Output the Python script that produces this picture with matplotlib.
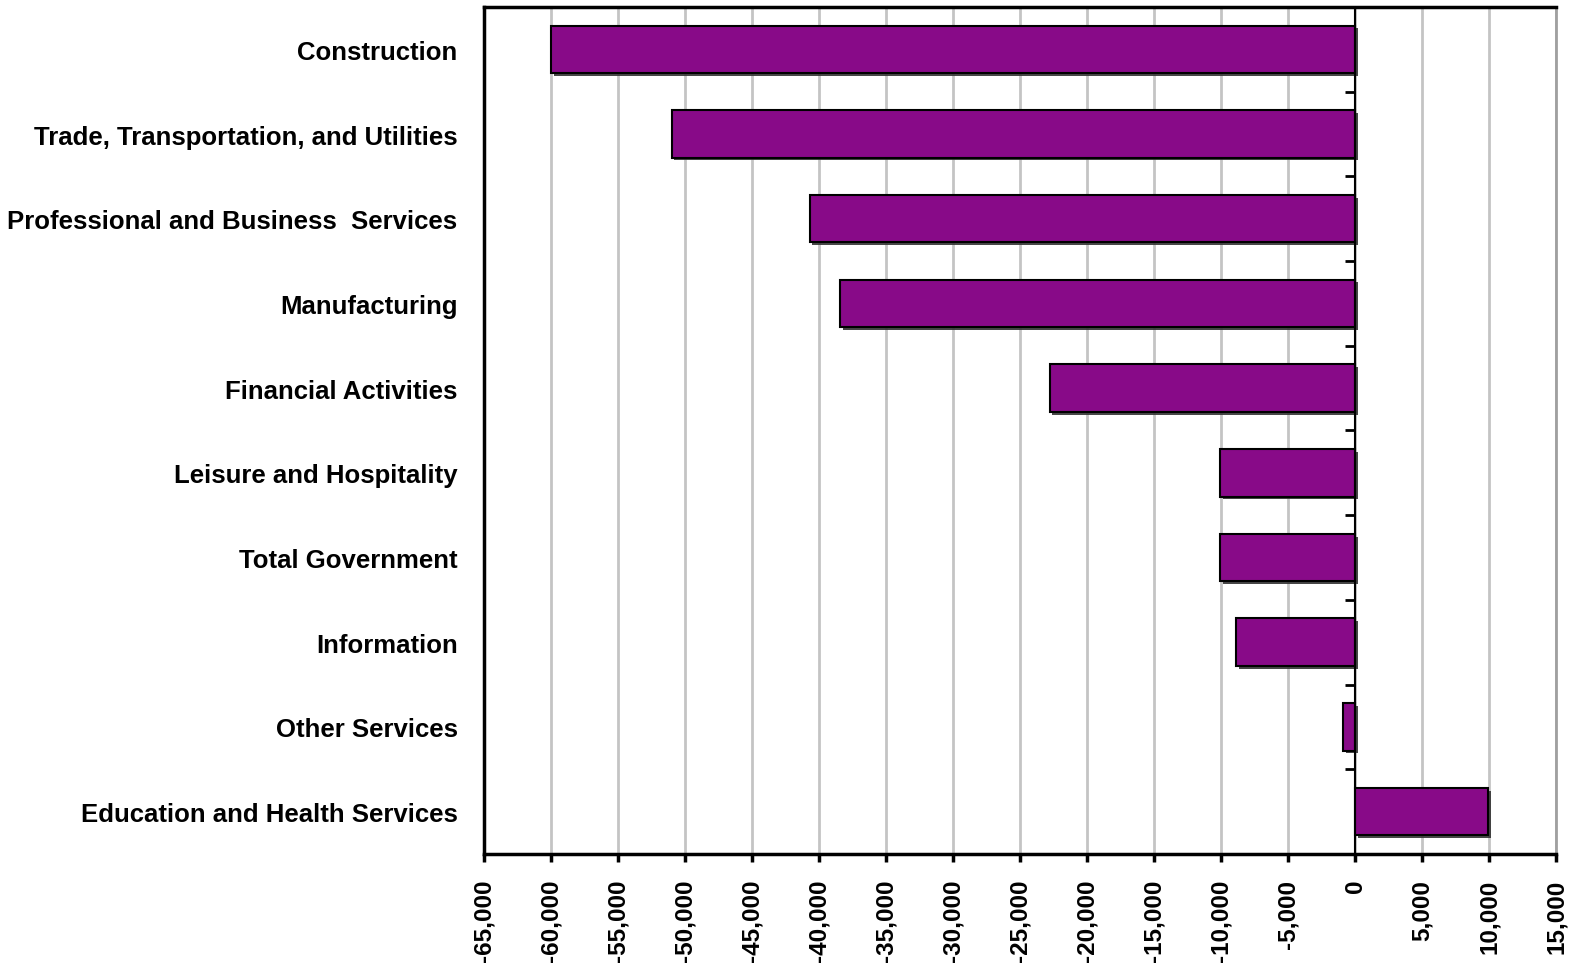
import numpy as np
import matplotlib.pyplot as plt
from matplotlib import patheffects
from matplotlib.ticker import FuncFormatter, MultipleLocator

categories = [
    "Construction",
    "Trade, Transportation, and Utilities",
    "Professional and Business  Services",
    "Manufacturing",
    "Financial Activities",
    "Leisure and Hospitality",
    "Total Government",
    "Information",
    "Other Services",
    "Education and Health Services",
]
changes = [-60000, -51000, -40700, -38400, -22800, -10100, -10100, -8900, -900, 9900]

BAR_COLOR = "#880a88"

plt.rcParams["font.family"] = ["Liberation Sans", "DejaVu Sans"]
plt.rcParams["font.weight"] = "bold"

fig = plt.figure(figsize=(15.75, 9.7), dpi=100)
ax = fig.add_axes([0.3073, 0.1186, 0.6807, 0.8732])

y = np.arange(len(categories))
bars = ax.barh(y, changes, height=0.56, color=BAR_COLOR, edgecolor="black", linewidth=1.5, zorder=3)
for b in bars:
    b.set_path_effects([patheffects.SimplePatchShadow(offset=(2, -2), shadow_rgbFace="#333333", alpha=0.9),
                        patheffects.Normal()])

ax.set_xlim(-65000, 15000)
ax.set_ylim(len(categories) - 0.5, -0.5)
ax.xaxis.set_major_locator(MultipleLocator(5000))
ax.xaxis.set_major_formatter(FuncFormatter(lambda v, p: f"{int(v):,}"))
ax.grid(axis="x", color="#c4c4c4", linewidth=2, zorder=0)

ax.set_yticks(y)
ax.set_yticklabels(categories, fontsize=18.5, fontweight="bold")
ax.tick_params(axis="y", length=0, pad=19)
ax.tick_params(axis="x", length=6, width=2.5, direction="out", labelsize=17.5, labelrotation=90, pad=12)
for lbl in ax.get_xticklabels():
    lbl.set_fontweight("bold")

# zero line with category-separator ticks
ax.axvline(0, color="black", linewidth=1.5, zorder=4)
bounds = np.arange(len(categories) - 1) + 0.5
ax.plot(np.zeros_like(bounds), bounds, linestyle="none", marker=0, markersize=7,
        markeredgewidth=2, color="black", zorder=4)

for side in ["left", "top", "bottom"]:
    ax.spines[side].set_color("black")
    ax.spines[side].set_linewidth(2.5)
ax.spines["right"].set_color("#a0a0a0")
ax.spines["right"].set_linewidth(2)

fig.savefig("out.png", dpi=100)
